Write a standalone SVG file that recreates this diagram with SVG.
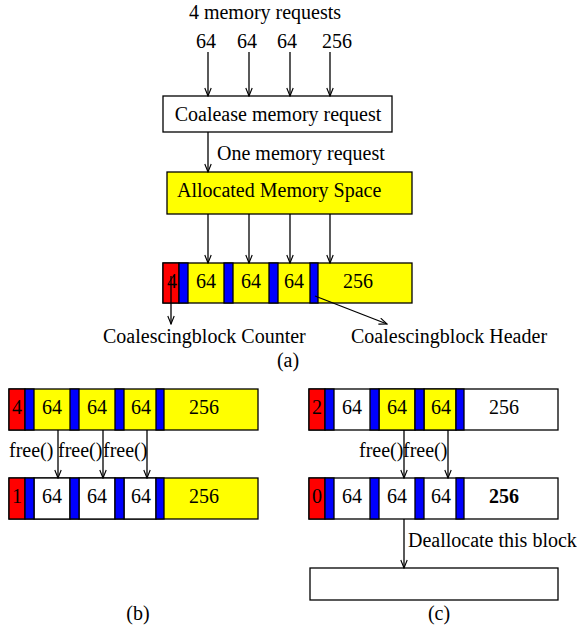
<svg xmlns="http://www.w3.org/2000/svg" width="577" height="632" viewBox="0 0 577 632">
  <defs>
    <marker id="arr" viewBox="0 0 10 10" refX="10" refY="5" markerWidth="10" markerHeight="8" markerUnits="userSpaceOnUse" orient="auto">
      <path d="M0,1 L10,5 L0,9" fill="none" stroke="#000" stroke-width="1.4"/>
    </marker>
  </defs>
  <style>
    text { font-family: "Liberation Serif", "Times New Roman", serif; font-size: 20px; fill: #000; }
    .c { text-anchor: middle; }
    .b { font-weight: bold; }
    .box { stroke: #000; stroke-width: 1.3; }
    .w { fill: #fff; }
    .y { fill: #ffff00; }
    .r { fill: #ff0000; }
    .bl { fill: #0000ff; }
    .edge { stroke: #000; stroke-width: 1.3; fill: none; marker-end: url(#arr); }
  </style>
  <rect width="577" height="632" fill="#fff"/>

  <!-- part (a): request coalescing -->
  <g id="requests">
    <text x="265" y="19" class="c">4 memory requests</text>
    <text x="206" y="48" class="c">64</text>
    <text x="247" y="48" class="c">64</text>
    <text x="287" y="48" class="c">64</text>
    <text x="337" y="48" class="c">256</text>
  </g>

  <g id="coalesce">
    <rect x="163" y="96" width="229" height="36" class="box w"/>
    <text x="278" y="121" class="c">Coalease memory request</text>
  </g>

  <g id="allocated">
    <rect x="167" y="172" width="245" height="42" class="box y"/>
    <text x="177" y="197">Allocated Memory Space</text>
  </g>

  <!-- coalesced block: counter, headers, chunks -->
  <g id="block-a">
    <rect x="163" y="263" width="249" height="40" class="box y"/>
    <rect x="163" y="263" width="16" height="40" class="box r"/>
    <rect x="179" y="263" width="9" height="40" class="box bl"/>
    <rect x="224" y="263" width="9" height="40" class="box bl"/>
    <rect x="269" y="263" width="9" height="40" class="box bl"/>
    <rect x="310" y="263" width="8" height="40" class="box bl"/>
    <text x="172" y="288" class="c">4</text>
    <text x="206" y="288" class="c">64</text>
    <text x="251" y="288" class="c">64</text>
    <text x="294" y="288" class="c">64</text>
    <text x="358" y="288" class="c">256</text>
  </g>

  <g id="labels-a">
    <text x="103" y="343">Coalescingblock Counter</text>
    <text x="351" y="343">Coalescingblock Header</text>
    <text x="288" y="367" class="c">(a)</text>
  </g>

  <!-- part (b): three chunks freed -->
  <g id="block-b-before">
    <rect x="9" y="389" width="249" height="41" class="box y"/>
    <rect x="9" y="389" width="16" height="41" class="box r"/>
    <rect x="25" y="389" width="9" height="41" class="box bl"/>
    <rect x="70" y="389" width="9" height="41" class="box bl"/>
    <rect x="115" y="389" width="9" height="41" class="box bl"/>
    <rect x="156" y="389" width="8" height="41" class="box bl"/>
    <text x="17" y="414" class="c">4</text>
    <text x="52" y="414" class="c">64</text>
    <text x="97" y="414" class="c">64</text>
    <text x="141" y="414" class="c">64</text>
    <text x="204" y="414" class="c">256</text>
  </g>

  <g id="block-b-after">
    <rect x="9" y="478" width="249" height="41" class="box y"/>
    <rect x="34" y="478" width="36" height="41" class="box w"/>
    <rect x="79" y="478" width="36" height="41" class="box w"/>
    <rect x="124" y="478" width="32" height="41" class="box w"/>
    <rect x="9" y="478" width="16" height="41" class="box r"/>
    <rect x="25" y="478" width="9" height="41" class="box bl"/>
    <rect x="70" y="478" width="9" height="41" class="box bl"/>
    <rect x="115" y="478" width="9" height="41" class="box bl"/>
    <rect x="156" y="478" width="8" height="41" class="box bl"/>
    <text x="17" y="503" class="c">1</text>
    <text x="52" y="503" class="c">64</text>
    <text x="97" y="503" class="c">64</text>
    <text x="141" y="503" class="c">64</text>
    <text x="204" y="503" class="c">256</text>
  </g>

  <g id="labels-b">
    <text x="9" y="457">free()</text>
    <text x="58" y="457">free()</text>
    <text x="103" y="457">free()</text>
    <text x="138" y="620" class="c">(b)</text>
  </g>

  <!-- part (c): last chunks freed, block released -->
  <g id="block-c-before">
    <rect x="309" y="389" width="249" height="41" class="box w"/>
    <rect x="379" y="389" width="36" height="41" class="box y"/>
    <rect x="424" y="389" width="32" height="41" class="box y"/>
    <rect x="309" y="389" width="16" height="41" class="box r"/>
    <rect x="325" y="389" width="9" height="41" class="box bl"/>
    <rect x="370" y="389" width="9" height="41" class="box bl"/>
    <rect x="415" y="389" width="9" height="41" class="box bl"/>
    <rect x="456" y="389" width="8" height="41" class="box bl"/>
    <text x="317" y="414" class="c">2</text>
    <text x="352" y="414" class="c">64</text>
    <text x="397" y="414" class="c">64</text>
    <text x="441" y="414" class="c">64</text>
    <text x="504" y="414" class="c">256</text>
  </g>

  <g id="block-c-after">
    <rect x="309" y="478" width="249" height="41" class="box w"/>
    <rect x="309" y="478" width="16" height="41" class="box r"/>
    <rect x="325" y="478" width="9" height="41" class="box bl"/>
    <rect x="370" y="478" width="9" height="41" class="box bl"/>
    <rect x="415" y="478" width="9" height="41" class="box bl"/>
    <rect x="456" y="478" width="8" height="41" class="box bl"/>
    <text x="317" y="503" class="c">0</text>
    <text x="352" y="503" class="c">64</text>
    <text x="397" y="503" class="c">64</text>
    <text x="441" y="503" class="c">64</text>
    <text x="504" y="503" class="c b">256</text>
  </g>

  <g id="released">
    <rect x="310" y="568" width="248" height="32" class="box w"/>
  </g>

  <g id="labels-c">
    <text x="359" y="457">free()</text>
    <text x="403" y="457">free()</text>
    <text x="408" y="547">Deallocate this block</text>
    <text x="439" y="620" class="c">(c)</text>
  </g>

  <g id="connectors">
    <line x1="208" y1="52" x2="208" y2="96" class="edge"/>
    <line x1="249" y1="52" x2="249" y2="96" class="edge"/>
    <line x1="290" y1="52" x2="290" y2="96" class="edge"/>
    <line x1="330" y1="52" x2="330" y2="96" class="edge"/>
    <line x1="208" y1="132" x2="208" y2="172" class="edge"/>
    <text x="217" y="160">One memory request</text>
    <line x1="208" y1="214" x2="208" y2="263" class="edge"/>
    <line x1="249" y1="214" x2="249" y2="263" class="edge"/>
    <line x1="290" y1="214" x2="290" y2="263" class="edge"/>
    <line x1="330" y1="214" x2="330" y2="263" class="edge"/>
    <line x1="171" y1="276" x2="171" y2="324" class="edge"/>
    <line x1="315" y1="296" x2="387" y2="324" class="edge"/>
    <line x1="58" y1="430" x2="58" y2="478" class="edge"/>
    <line x1="103" y1="430" x2="103" y2="478" class="edge"/>
    <line x1="147" y1="430" x2="147" y2="478" class="edge"/>
    <line x1="404" y1="430" x2="404" y2="478" class="edge"/>
    <line x1="448" y1="430" x2="448" y2="478" class="edge"/>
    <line x1="404" y1="519" x2="404" y2="568" class="edge"/>
  </g>
</svg>
